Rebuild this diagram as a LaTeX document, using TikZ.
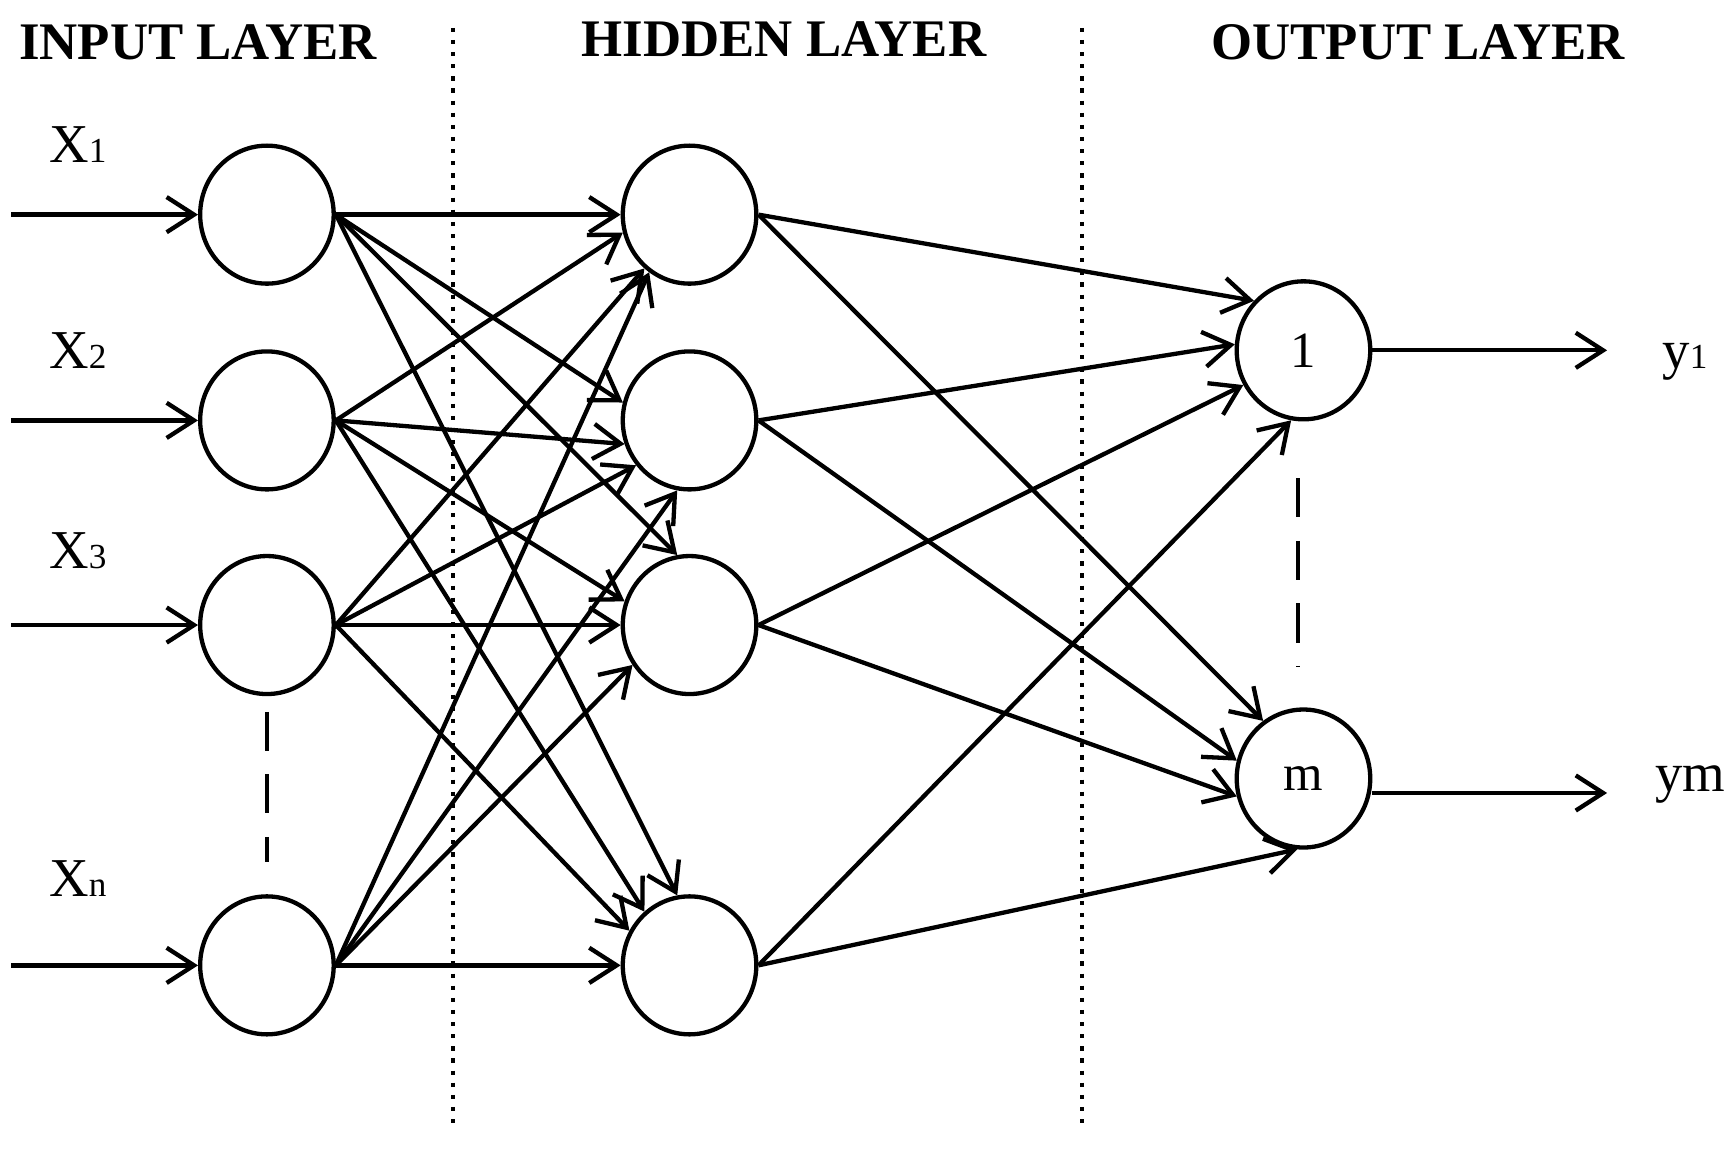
\documentclass[tikz,border=0pt]{standalone}
\usepackage{fontspec}
\setmainfont{Liberation Serif}
\usetikzlibrary{shapes.geometric,arrows.meta}
\begin{document}
\begin{tikzpicture}[x=0.01cm,y=-0.01cm,
  neu/.style={ellipse,draw,line width=1.1pt,minimum width=1.2cm,minimum height=1.24cm,inner sep=0pt,font=\fontsize{13}{15}\selectfont},
  con/.style={line width=1.1pt,-{Straight Barb[length=7pt,width=9pt,line width=1.1pt]}},
  ttl/.style={font=\bfseries\fontsize{13.5}{15}\selectfont},
  lab/.style={font=\fontsize{14}{16}\selectfont}]
\useasboundingbox (0,0) rectangle (1560,1040);
\node[ttl] (t1) at (178,38) {INPUT LAYER};
\node[ttl] (t2) at (705,35) {HIDDEN LAYER};
\node[ttl] (t3) at (1275,38) {OUTPUT LAYER};
\draw[dotted,line width=1.1pt] (407,25) coordinate (d1a) -- (407,1015) coordinate (d1b);
\draw[dotted,line width=1.1pt] (973,25) coordinate (d2a) -- (973,1015) coordinate (d2b);
\foreach \i/\y in {1/193,2/378,3/562,4/868}{
  \node[neu] (i\i) at (240,\y) {};
  \node[neu] (h\i) at (620,\y) {};
  \coordinate (s\i) at (10,\y);
  \draw[con] (s\i) -- (i\i);
}
\node[neu] (o1) at (1172,315) {1};
\node[neu] (o2) at (1172,700) {m};
\coordinate (e1) at (1445,315);
\coordinate (e2) at (1445,713);
\draw[con] (o1) -- (e1);
\draw[con] (o2.east |- e2) -- (e2);
\foreach \i/\a/\b/\c/\d in {1/180/165/100/100, 2/195/200/160/130, 3/230/220/180/150, 4/235/260/215/180}{
  \draw[con] (i\i.east) -- (h1.\a);
  \draw[con] (i\i.east) -- (h2.\b);
  \draw[con] (i\i.east) -- (h3.\c);
  \draw[con] (i\i.east) -- (h4.\d);
}
\foreach \i/\a/\b in {1/135/125, 2/175/165, 3/210/195, 4/260/265}{
  \draw[con] (h\i.east) -- (o1.\a);
  \draw[con] (h\i.east) -- (o2.\b);
}
\draw[line width=1.1pt,dash pattern=on 10pt off 6pt] (240,640) coordinate (a1) -- (240,775) coordinate (a2);
\draw[line width=1.1pt,dash pattern=on 10pt off 6pt] (1167,430) coordinate (b1) -- (1167,600) coordinate (b2);
\node[lab] (x1) at (70,130) {X{\small 1}};
\node[lab] (x2) at (70,315) {X{\small 2}};
\node[lab] (x3) at (70,495) {X{\small 3}};
\node[lab] (xn) at (70,790) {X{\small n}};
\node[lab] (y1) at (1515,325) {y{\small 1}};
\node[lab] (ym) at (1520,705) {ym};
\end{tikzpicture}
\end{document}
